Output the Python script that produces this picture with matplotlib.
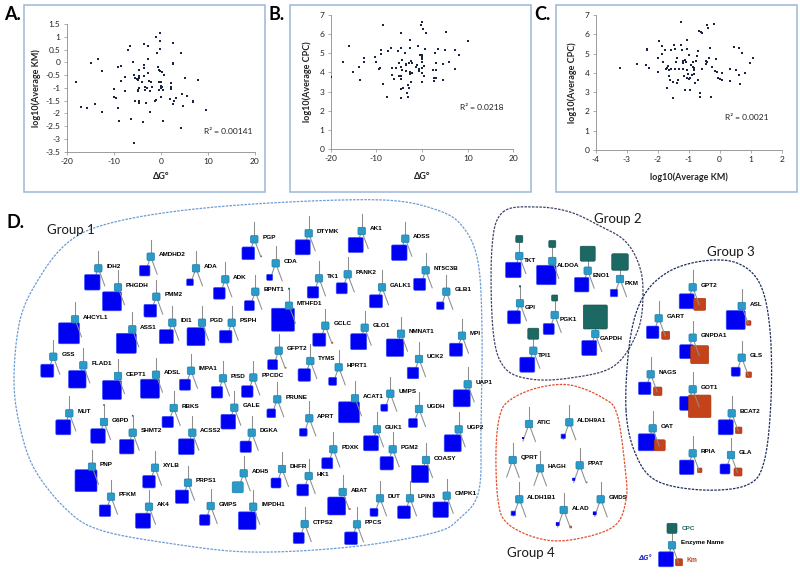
import numpy as np
import matplotlib.pyplot as plt
from matplotlib.patches import FancyBboxPatch, Rectangle
from matplotlib.ticker import FuncFormatter

plt.rcParams['font.family'] = ['Lato', 'DejaVu Sans']
plt.rcParams['axes.unicode_minus'] = False

a_dg = [-18.1, -17.0, -15.6, -14.9, -13.9, -13.4, -12.6, -12.6, -10.0, -10.0, -9.5, -9.2, -9.0, -8.9,
        -8.5, -8.4, -7.6, -7.6, -6.9, -6.5, -6.4, -5.9, -5.8, -5.7, -5.4, -5.4, -5.1, -4.9, -4.8, -4.8,
        -4.6, -4.6, -4.7, -4.6, -4.6, -4.6, -4.1, -3.7, -3.6, -3.6, -3.6, -3.6, -3.4, -3.4, -3.2, -2.9,
        -2.7, -2.7, -2.7, -2.6, -2.4, -2.3, -2.1, -1.9, -1.3, -1.1, -1.0, -0.8, -0.5, -0.4, -0.4, -0.3,
        -0.1, -0.1, -0.1, -0.1, 0.0, 0.0, 0.1, 0.1, 0.3, 0.3, 0.4, 0.5, 0.7, 2.1, 2.1, 2.0, 2.2, 2.6,
        2.6, 2.6, 2.6, 2.8, 3.2, 4.2, 4.3, 4.4, 4.6, 5.1, 5.6, 6.8, 6.9, 7.8, 9.6]
a_km = [-0.79, -1.76, -1.8, -0.03, -1.64, 0.13, -0.34, -1.96, -1.05, -1.34, -1.39, -0.18, -1.78, -2.29,
        -0.13, -0.74, -1.14, -0.58, 0.5, 0.64, -2.22, 0.03, -3.16, -0.51, -1.53, -0.6, -0.67, -0.68,
        -1.08, -1.13, -1.5, -1.59, -0.29, -0.53, -1.01, -0.62, -0.78, -2.32, -0.09, 0.7, -0.21, -0.54,
        -1.08, -0.95, -1.61, -0.99, 0.64, 0.13, -0.42, -0.75, -1.13, -1.96, -0.78, -0.97, -1.5, 1.0,
        -1.47, 0.37, -0.18, -0.78, -1.08, -0.32, 1.13, 0.84, 0.54, -0.34, -0.93, -1.01, -0.76, -1.34,
        -0.36, -0.97, -1.1, -2.29, -0.51, -0.95, -1.04, -1.45, -0.82, -0.08, -0.03, 0.76, -1.63, -1.5,
        -1.41, 0.37, -2.58, -1.26, -1.71, -0.63, -1.33, -1.5, -1.54, -0.68, -1.88]

b_dg = [-19.9, -17.2, -15.9, -15.2, -13.9, -13.6, -12.8, -12.7, -10.2, -10.0, -9.5, -9.2, -9.0, -9.0,
        -8.6, -8.5, -7.6, -7.4, -6.9, -6.5, -6.5, -6.1, -5.6, -5.3, -5.0, -5.0, -4.7, -4.6, -4.6, -4.5,
        -4.5, -4.5, -4.4, -4.5, -4.3, -4.2, -3.8, -3.5, -3.4, -3.4, -3.3, -3.1, -3.1, -2.9, -2.8, -2.7,
        -2.6, -2.7, -2.6, -2.5, -2.4, -2.3, -2.2, -2.1, -1.3, -1.0, -0.9, -0.7, -0.7, -0.5, -0.2, -0.1,
        -0.1, 0.1, 0.1, 0.1, 0.1, 0.1, 0.1, 0.2, 0.4, 0.4, 0.7, 0.9, 2.4, 2.6, 2.6, 2.9, 3.0, 3.0, 3.1,
        3.4, 4.5, 4.6, 4.7, 5.0, 5.3, 5.9, 7.3, 7.3, 8.2, 10.0]
b_cpc = [3.76, 4.55, 5.38, 4.02, 4.3, 3.6, 4.74, 4.56, 4.79, 4.53, 4.2, 4.25, 5.17, 4.98, 6.48, 3.41,
         2.74, 5.12, 5.3, 3.85, 4.23, 3.68, 4.22, 5.12, 3.8, 4.51, 6.06, 5.3, 3.83, 3.12, 2.68, 4.3,
         4.65, 3.66, 4.13, 3.17, 5.02, 4.46, 4.37, 4.08, 2.94, 3.35, 2.74, 3.21, 4.51, 5.26, 5.68, 3.92,
         4.02, 3.52, 4.6, 3.99, 4.51, 3.99, 4.27, 4.37, 5.4, 4.09, 4.16, 4.91, 6.48, 3.52, 4.22, 4.91,
         4.81, 4.69, 4.56, 3.99, 6.66, 6.25, 4.36, 3.82, 5.23, 6.06, 4.13, 3.73, 3.55, 5.0, 4.51, 4.13,
         3.73, 5.21, 3.59, 3.61, 4.43, 5.17, 6.13, 4.53, 5.17, 4.2, 4.91, 5.64]

c_km = [-3.21, -2.65, -2.37, -2.33, -2.33, -2.26, -2.0, -1.99, -1.95, -1.86, -1.85, -1.83, -1.77, -1.73,
        -1.68, -1.68, -1.65, -1.63, -1.63, -1.61, -1.58, -1.56, -1.49, -1.49, -1.48, -1.44, -1.43, -1.40,
        -1.38, -1.38, -1.33, -1.30, -1.25, -1.24, -1.20, -1.19, -1.18, -1.17, -1.14, -1.12, -1.11, -1.08,
        -1.06, -1.05, -1.05, -1.04, -1.02, -1.0, -0.99, -0.97, -0.95, -0.92, -0.90, -0.85, -0.85, -0.84,
        -0.82, -0.81, -0.78, -0.77, -0.74, -0.71, -0.69, -0.67, -0.63, -0.62, -0.60, -0.58, -0.56, -0.45,
        -0.44, -0.41, -0.40, -0.39, -0.33, -0.30, -0.29, -0.25, -0.18, -0.14, -0.11, -0.09, -0.06, 0.01,
        0.08, 0.09, 0.33, 0.32, 0.46, 0.54, 0.61, 0.63, 0.67, 0.72, 0.82, 0.98, 1.08]
c_cpc = [4.25, 4.44, 4.39, 5.23, 5.17, 4.25, 4.06, 4.76, 5.63, 5.38, 5.0, 4.55, 5.17, 4.18, 4.27, 3.21,
         4.34, 4.16, 3.82, 3.61, 5.17, 4.22, 2.68, 3.55, 5.45, 5.23, 4.18, 4.56, 4.79, 3.47, 3.61, 4.2,
         6.66, 5.43, 5.17, 4.53, 4.6, 4.2, 3.82, 3.12, 4.65, 4.56, 3.75, 5.7, 5.26, 4.16, 3.94, 3.68,
         4.93, 3.12, 3.73, 4.41, 3.87, 4.55, 4.3, 4.23, 4.13, 3.92, 3.47, 4.6, 4.9, 5.14, 3.64, 6.18,
         2.96, 2.75, 6.11, 6.08, 4.22, 4.6, 4.44, 4.56, 6.48, 6.31, 4.76, 5.31, 2.75, 4.3, 6.52, 4.09,
         4.74, 4.04, 3.73, 3.69, 3.99, 3.64, 4.18, 3.57, 5.35, 4.15, 5.31, 3.87, 3.4, 5.03, 4.0, 4.51, 4.77]

r2_values = ["R² = 0.00141", "R² = 0.0218", "R² = 0.0021"]

# ---- panel D: enzyme glyphs (group, name, dG, Km, CPC square sizes) ----
genes = ["AMDHD2", "IDH2", "ADA", "PHGDH", "ADK", "PMM2", "BPNT1", "AHCYL1", "ASS1", "IDI1", "PGD",
         "PSPH", "GSS", "FLAD1", "PGP", "DTYMK", "AK1", "ADSS", "CDA", "TK1", "PANK2", "NT5C3B", "GALK1",
         "GLB1", "MTHFD1", "GCLC", "GLO1", "NMNAT1", "MPI", "GFPT2", "TYMS", "HPRT1", "UCK2", "CEPT1",
         "ADSL", "IMPA1", "PISD", "PPCDC", "MUT", "G6PD", "SHMT2", "RBKS", "GALE", "ACSS2", "DGKA", "PNP",
         "XYLB", "PRPS1", "ADH5", "PFKM", "AK4", "GMPS", "IMPDH1", "PRUNE", "APRT", "ACAT1", "UMPS",
         "UGDH", "UAP1", "GUK1", "PGM2", "UGP2", "PDXK", "COASY", "DHFR", "HK1", "ABAT", "DUT", "LPIN3",
         "CMPK1", "CTPS2", "PPCS",
         "TKT", "ALDOA", "ENO1", "PKM", "GPI", "PGK1", "GAPDH", "TPI1",
         "GPT2", "ASL", "GART", "GNPDA1", "GLS", "NAGS", "GOT1", "BCAT2", "OAT", "RPIA", "GLA",
         "ATIC", "ALDH9A1", "QPRT", "HAGH", "PPAT", "ALDH1B1", "ALAD", "GMDS"]
group = [1] * 72 + [2] * 8 + [3] * 11 + [4] * 8
dg = [10.5, 15.5, 6.7, 19, 11.7, 12.7, 10, 21, 20, 14, 18, 12.5, 13, 17.5, 12.7, 15, 15, 15.5, 6, 11.5,
      11, 12, 13, 7.5, 23, 13, 16, 17.5, 13, 10, 12.5, 8, 11.5, 19, 19, 11, 11.5, 11.5, 15, 14.5, 14.5,
      11.3, 14.7, 15.7, 11.3, 22, 12.5, 13.3, 11, 11.5, 15, 10.5, 17.7, 8.8, 7.7, 21, 7, 9, 17, 15,
      13.3, 17, 11, 17.3, 10, 11.7, 18, 8, 12.7, 15.5, 11, 12.7,
      15.5, 19.5, 14.5, 7.5, 13, 11, 15, 15,
      15, 19, 12.5, 14, 9, 12.5, 14, 15, 17, 14.5, 10,
      2, 4.5, 0, 0, 3, 4.5, 3.7, 3.7]
km = [0] * 14 + [1.5] + [0] * 10 + [1.8] + [0] * 3 + [1.5] + [0] * 36 + [1.8] + [0] * 5 + \
     [0] * 8 + \
     [12, 4.5, 8, 18, 5.5, 8.5, 22.5, 6.5, 11, 4.5, 8] + \
     [0, 0, 0, 0, 1.5, 0, 2.5, 0]
cpc = [0] * 24 + [1.8] + [0] * 14 + [1.6, 1.6] + [0] * 31 + \
      [7, 7, 15, 16.5, 2, 6, 24, 11] + [0] * 19
positive_dg = ["ADH5"]

# node layout (pixel positions in the figure)
node_x = [150.7, 98.3, 196, 118, 225.3, 156.3, 255.3, 75, 132.3, 172.3, 202, 231.7, 53.3, 83.3, 254.3,
          308.7, 361.7, 405.3, 275.7, 319, 347.7, 425.7, 382, 446.3, 289, 325.3, 364.7, 401, 462, 278.7,
          310.3, 338.7, 419, 118, 156, 191, 223, 253.3, 69.3, 104, 132.7, 173.7, 234.3, 192.3, 251.7, 92,
          155, 188, 243.7, 111, 149, 210.7, 253.2, 277.3, 309.3, 355, 390.3, 419, 467.7, 377, 392.7,
          458.7, 333.3, 426, 282, 308.7, 342.7, 380, 410, 446.7, 304.7, 357,
          519.3, 552.3, 587.7, 620, 520, 554.7, 595.3, 533.3,
          692.7, 741.7, 658.7, 692.7, 741.7, 650.7, 692.7, 731.7, 652.7, 692.7, 731,
          529, 569.3, 512.7, 540, 579.7, 519.3, 563.7, 600.7]
node_y = [256.7, 268.3, 268.3, 287.3, 279.3, 296.7, 291.7, 319.3, 329.3, 322.7, 322.7, 322.7, 356.7,
          365.3, 239.3, 233.3, 231, 238.7, 263.3, 278.3, 274.3, 270.3, 287.3, 291.7, 305.7, 325.7, 327.7,
          333.7, 335.7, 350.7, 361, 367.3, 359, 376, 374.7, 370.7, 378.3, 377.5, 413.3, 422, 432.7, 408,
          407.7, 432.7, 432.7, 466.7, 467.7, 482.7, 473.3, 496.7, 506.7, 506, 506.7, 399.3, 418.3, 398.3,
          393.7, 409, 384.3, 429.3, 449.3, 429.3, 449.3, 460, 469, 476, 492, 498.3, 498.3, 495.7, 524,
          524.3,
          256, 261, 270.7, 279, 303.3, 315, 334, 350.7,
          287.3, 306, 318.3, 337.7, 357.7, 374.3, 389.3, 413.3, 428.3, 453.3, 455,
          424, 422.3, 460, 468.3, 465.3, 499.3, 510, 499.3]

BLUE, BLUE_EDGE = "#0000f2", "#3a50ff"
NODE, NODE_EDGE = "#2a9bc8", "#1b79a3"
CPC_C, KM_C = "#1c6863", "#c4431b"
GRAY = "#8e8e8e"

fig = plt.figure(figsize=(8, 5.78), dpi=100)
ax = fig.add_axes([0, 0, 1, 1])
ax.set_xlim(0, 800)
ax.set_ylim(578, 0)
ax.axis('off')


def square(cx, cy, s, fc, ec, z):
    if s <= 0:
        return
    ax.add_patch(FancyBboxPatch((cx - s / 2, cy - s / 2), s, s,
                                boxstyle="round,pad=0,rounding_size=%g" % min(1.3, s * 0.15),
                                fc=fc, ec=ec, lw=0.45 if s > 4 else 0, zorder=z))


def glyph(cx, cy, g_dg, g_km, g_cpc, dg_col=BLUE):
    ax.plot([cx, cx], [cy, cy - 17], color=GRAY, lw=0.75, zorder=2)
    ax.plot([cx, cx - 6], [cy, cy + 17], color=GRAY, lw=0.75, zorder=2)
    ax.plot([cx, cx + 6.5], [cy, cy + 17.5], color=GRAY, lw=0.75, zorder=4)
    square(cx - 6, cy + 14, g_dg, dg_col, BLUE_EDGE if dg_col == BLUE else NODE_EDGE, 3)
    square(cx + 7, cy + 17, g_km, KM_C, "#a8360f", 3.5)
    square(cx, cy - 17, g_cpc, CPC_C, "#14504c", 3)
    square(cx, cy, 7.5, NODE, NODE_EDGE, 5)


for i, name in enumerate(genes):
    x, y = node_x[i], node_y[i]
    col = NODE if name in positive_dg else BLUE
    glyph(x, y, dg[i], km[i], cpc[i], col)
    if group[i] == 2:
        ax.text(x + 4.5, y + 4.5, name, fontsize=4.6, fontweight='bold', family='Liberation Sans',
                ha='left', va='center', zorder=6)
    else:
        ax.text(x + 8, y - 2, name, fontsize=4.6, fontweight='bold', family='Liberation Sans',
                ha='left', va='center', zorder=6)


def smooth_closed(pts, n=24):
    P = np.array(pts, float)
    m = len(P)
    t = np.linspace(0, 1, n, endpoint=False)[:, None]
    out = []
    for i in range(m):
        p0, p1, p2, p3 = P[i - 1], P[i], P[(i + 1) % m], P[(i + 2) % m]
        out.append(0.5 * (2 * p1 + (-p0 + p2) * t + (2 * p0 - 5 * p1 + 4 * p2 - p3) * t ** 2
                          + (-p0 + 3 * p1 - 3 * p2 + p3) * t ** 3))
    out = np.vstack(out)
    return np.vstack([out, out[:1]])


outlines = [
    ([(100, 226), (170, 212), (270, 203), (383, 200), (437, 210), (463, 227), (478, 262), (482, 330),
      (481, 420), (479, 490), (460, 518), (433, 533), (350, 547), (250, 552), (167, 543), (100, 530),
      (67, 510), (35, 470), (20, 427), (14, 380), (20, 320), (38, 280), (65, 245)], "#6d9bd3"),
    ([(503, 212), (537, 207), (570, 212), (600, 226), (624, 240), (638, 262), (643, 290), (638, 330),
      (614, 366), (570, 378), (530, 379), (504, 367), (493, 330), (492, 247)], "#414166"),
    ([(626, 410), (630, 340), (643, 297), (668, 272), (703, 261), (737, 263), (760, 284), (770, 330),
      (771, 400), (764, 462), (747, 485), (703, 490), (657, 481), (636, 455)], "#1d2d5e"),
    ([(500, 415), (510, 400), (537, 388), (570, 385), (603, 398), (617, 414), (625, 467), (626, 500),
      (613, 527), (570, 540), (537, 538), (507, 523), (498, 500), (496, 450)], "#e0502e"),
]
for pts, col in outlines:
    c = smooth_closed(pts)
    ax.plot(c[:, 0], c[:, 1], color=col, lw=0.9, ls=(0, (2, 1)), zorder=1)

group_labels = ["Group 1", "Group 2", "Group 3", "Group 4"]
group_pos = [(46.7, 230), (594, 219.3), (706.7, 251.7), (507.3, 553.3)]
for lab, (gx, gy) in zip(group_labels, group_pos):
    ax.text(gx, gy, lab, fontsize=9.5, color="#1a1a1a", ha='left', va='center')

# legend glyph
glyph(672, 545.3, 15, 7, 10)
ax.text(681.7, 528.5, "CPC", fontsize=4.6, fontweight='bold', family='Liberation Sans',
        color=CPC_C, ha='left', va='center')
ax.text(680.7, 542.7, "Enzyme Name", fontsize=4.6, fontweight='bold', family='Liberation Sans',
        ha='left', va='center')
ax.text(652, 558.3, "ΔG°", fontsize=4.8, fontweight='bold', style='italic', family='DejaVu Sans',
        color="#3030c8", ha='right', va='center')
ax.text(686.7, 560, "Km", fontsize=4.8, fontweight='bold', family='Liberation Sans',
        color=KM_C, ha='left', va='center')

# panel letters and frames
for lab, (lx, ly) in zip(["A.", "B.", "C.", "D."], [(4, 15), (269, 15), (534, 15), (6, 222.7)]):
    ax.text(lx, ly, lab, fontsize=13, fontweight='bold', ha='left', va='center')
for bx in [24, 290, 556]:
    ax.add_patch(Rectangle((bx, 5), 241, 186.5, fill=False, ec="#9db7d8", lw=1.1, zorder=1))


def scatter_panel(px, xs, ys, xlim, ylim, xticks, yticks, xlabel, ylabel, r2, r2_xy, ylab_x):
    left, right, top, bottom = px
    a = fig.add_axes([left / 800, 1 - bottom / 578, (right - left) / 800, (bottom - top) / 578])
    a.set_facecolor('none')
    a.scatter(xs, ys, s=3.2, marker='s', color="#1b2544", lw=0, zorder=3)
    a.set_xlim(xlim)
    a.set_ylim(ylim)
    a.set_xticks(xticks)
    a.set_yticks(yticks)
    a.xaxis.set_major_formatter(FuncFormatter(lambda v, p: "%g" % v))
    a.yaxis.set_major_formatter(FuncFormatter(lambda v, p: "%g" % v))
    for s in ['top', 'right']:
        a.spines[s].set_visible(False)
    for s in ['left', 'bottom']:
        a.spines[s].set_color("#8c8c8c")
        a.spines[s].set_linewidth(0.6)
    a.tick_params(direction='out', length=2, width=0.5, color="#8c8c8c", labelsize=6,
                  labelcolor="#222222", pad=2.5)
    a.set_xlabel(xlabel, fontsize=6.5, fontweight='bold', color="#222222")
    a.set_ylabel(ylabel, fontsize=6.5, fontweight='bold', color="#222222")
    a.xaxis.set_label_coords(0.5, (bottom - 172) / (bottom - top))
    a.yaxis.set_label_coords((ylab_x - left) / (right - left), 0.5)
    ax.text(r2_xy[0], r2_xy[1], r2, fontsize=6, color="#222222", ha='left', va='center')


scatter_panel((66.7, 255, 24, 151.7), a_dg, a_km, (-20, 20), (-3.5, 1.5), np.arange(-20, 21, 10),
              np.arange(-3.5, 1.6, 0.5), "ΔG°", "log10(Average KM)", r2_values[0], (204, 131.7), 41)
scatter_panel((330.7, 513.3, 15, 149), b_dg, b_cpc, (-20, 20), (0, 7), np.arange(-20, 21, 10),
              np.arange(0, 8, 1), "ΔG°", "log10(Average CPC)", r2_values[1], (460, 108), 312)
scatter_panel((595.5, 781.7, 15, 150), c_km, c_cpc, (-4, 2), (0, 7), np.arange(-4, 3, 1),
              np.arange(0, 8, 1), "log10(Average KM)", "log10(Average CPC)", r2_values[2], (725, 117), 577)

fig.savefig("out.png", dpi=100)
